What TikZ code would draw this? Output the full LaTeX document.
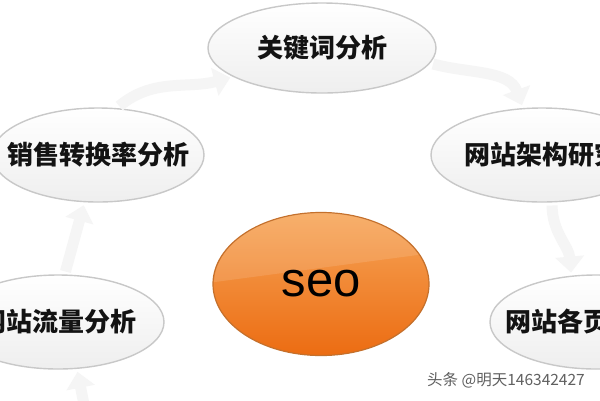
\documentclass[tikz,border=0pt]{standalone}
\usepackage{fontspec}
\newfontfamily\cjk{Noto Sans CJK SC}
\newfontfamily\seofont{Liberation Sans}
\usetikzlibrary{shapes.geometric, arrows.meta}
\definecolor{SeoTop}{RGB}{246,165,88}
\definecolor{SeoBot}{RGB}{236,108,18}
\definecolor{SeoLine}{RGB}{196,112,44}
\definecolor{BubbleLine}{RGB}{200,200,200}
\newcommand{\bubbletext}[1]{\makebox[0pt]{#1}}
\tikzstyle{Bubble} = [
ellipse, inner sep=0pt,
draw=BubbleLine, line width=1.4pt,
top color=white, bottom color=gray!13,
text=gray!15!black,
font=\cjk\bfseries\fontsize{26}{30}\selectfont]
\tikzstyle{Arrow} = [
draw=gray!8, line width=11pt,
-{Triangle[width=28pt, length=16pt]},
shorten >= 3pt, shorten <= 3pt]

\begin{document}
\begin{tikzpicture}[x=1pt, y=-1pt]
    \clip (0,0) rectangle (600,400);
    \fill[white] (0,0) rectangle (600,400);
    \node [Bubble, minimum width=228pt, minimum height=90pt] (1) at (322,48) {\bubbletext{关键词分析}};
    \node [Bubble, minimum width=212pt, minimum height=94pt] (2) at (98,155) {\bubbletext{销售转换率分析}};
    \node [Bubble, minimum width=222pt, minimum height=94pt] (3) at (542,155) {\bubbletext{网站架构研究}};
    \node [Bubble, minimum width=212pt, minimum height=94pt] (4) at (58,322) {\bubbletext{网站流量分析}};
    \node [Bubble, minimum width=212pt, minimum height=94pt] (5) at (596,322) {\bubbletext{网站各页面优化}};
    \node [ellipse, inner sep=0pt, minimum width=216pt, minimum height=143pt,
        draw=SeoLine, line width=1.2pt, top color=SeoTop, bottom color=SeoBot] (6) at (321,284) {};
    % highlight on the upper half
    \begin{scope}
        \clip (321,284) ellipse [x radius=107, y radius=71];
        \fill[white, opacity=0.12] (200,200) -- (440,200) -- (440,252) -- (200,284) -- cycle;
    \end{scope}
    \node [font=\seofont\fontsize{49}{50}\selectfont, text=black] at (6) {seo};
    \node [font=\cjk\fontsize{15.5}{16}\selectfont, text=gray!75!black] (7) at (506,380) {头条 @明天146342427};
    \coordinate (8) at (91,440);
    \draw[Arrow] (2.68) to [out=40, in=195] (1.198);
    \draw[Arrow] (1.-8) to [out=-15, in=110] (3.112);
    \draw[Arrow] (3.-78) to [out=-90, in=95] (5.118);
    \draw[Arrow] (4.82) -- (2.-106);
    \draw[Arrow] (8) -- (4.-68);
\end{tikzpicture}
\end{document}
